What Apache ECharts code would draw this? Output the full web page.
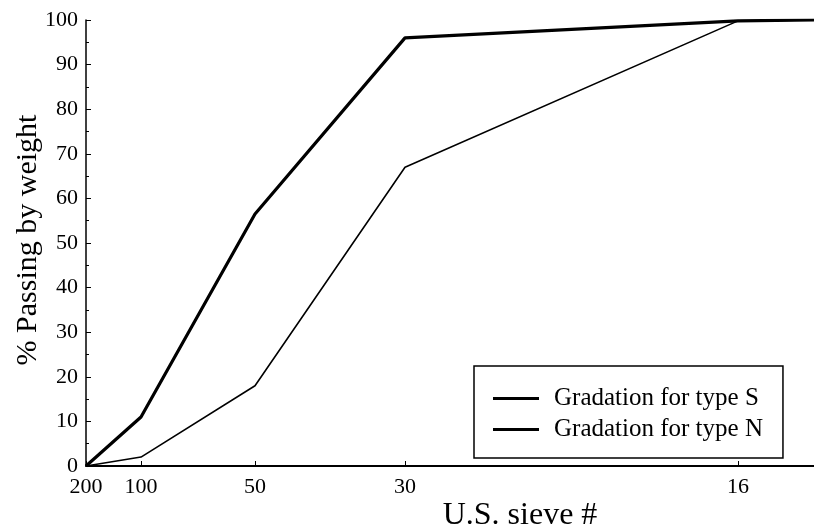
<!DOCTYPE html>
<html>
<head>
<meta charset="utf-8">
<script src="https://cdn.jsdelivr.net/npm/echarts@6/dist/echarts.min.js"></script>
<style>html,body{margin:0;padding:0;background:#fff}#c{width:814px;height:531px}</style>
</head>
<body>
<div id="c"></div>
<script>
// Sieve numbers and their position along the (non-uniform) horizontal scale
var sieves = ['200', '100', '50', '30', '16', '8'];
var sievePos = [0, 55, 169, 319, 652, 728];
var tickSieves = ['200', '100', '50', '30', '16'];
var typeS = [0, 11, 56.5, 96, 99.8, 100];
var typeN = [0, 2, 18, 67, 99.8, 100];
var yTicks = [0, 10, 20, 30, 40, 50, 60, 70, 80, 90, 100];
var xTitle = 'U.S. sieve #';
var yTitle = '% Passing by weight';

var font = 'Liberation Serif';
function pairs(vals) { return sievePos.map(function (p, i) { return [p, vals[i]]; }); }
var tickPos = tickSieves.map(function (s) { return sievePos[sieves.indexOf(s)]; });

var chart = echarts.init(document.getElementById('c'), null, { renderer: 'canvas' });
chart.setOption({
  animation: false,
  backgroundColor: '#fff',
  grid: { left: 86, right: 0, top: 20, bottom: 65, containLabel: false },
  graphic: [
    { type: 'text', x: 520, y: 516,
      style: { text: xTitle, fontFamily: font, fontSize: 32, fill: '#000', align: 'center', verticalAlign: 'middle' } },
    { type: 'text', x: 28, y: 240, rotation: Math.PI / 2,
      style: { text: yTitle, fontFamily: font, fontSize: 30, fill: '#000', align: 'center', verticalAlign: 'middle' } }
  ],
  xAxis: {
    type: 'value', min: 0, max: sievePos[sievePos.length - 1],
    axisLine: { show: true, lineStyle: { color: '#000', width: 2 } },
    axisTick: { show: true, inside: true, length: 5, customValues: tickPos, lineStyle: { color: '#000' } },
    axisLabel: {
      customValues: tickPos, margin: 10, fontFamily: font, fontSize: 22, color: '#000',
      formatter: function (v) { var i = sievePos.indexOf(v); return i >= 0 ? sieves[i] : ''; }
    },
    splitLine: { show: false }
  },
  yAxis: {
    type: 'value', min: yTicks[0], max: yTicks[yTicks.length - 1], interval: 10,
    axisLine: { show: true, lineStyle: { color: '#000', width: 1.5 } },
    axisTick: { show: true, inside: true, length: 5, lineStyle: { color: '#000' } },
    minorTick: { show: true, splitNumber: 2, length: 3, lineStyle: { color: '#000' } },
    axisLabel: { margin: 8, fontFamily: font, fontSize: 22, color: '#000' },
    splitLine: { show: false }
  },
  legend: {
    orient: 'vertical', left: 474, top: 366,
    padding: [20, 20, 16, 19], itemGap: 6,
    backgroundColor: '#fff', borderColor: '#000', borderWidth: 1.5, borderRadius: 0,
    icon: 'rect', itemWidth: 46, itemHeight: 3,
    textStyle: { fontFamily: font, fontSize: 25, color: '#000', padding: [0, 0, 0, 10], lineHeight: 24 },
    data: ['Gradation for type S', 'Gradation for type N']
  },
  series: [
    { name: 'Gradation for type S', type: 'line', data: pairs(typeS), showSymbol: false, symbol: 'none',
      lineStyle: { color: '#000', width: 3.2 }, itemStyle: { color: '#000' } },
    { name: 'Gradation for type N', type: 'line', data: pairs(typeN), showSymbol: false, symbol: 'none',
      lineStyle: { color: '#000', width: 1.6 }, itemStyle: { color: '#000' } }
  ]
});
</script>
</body>
</html>
